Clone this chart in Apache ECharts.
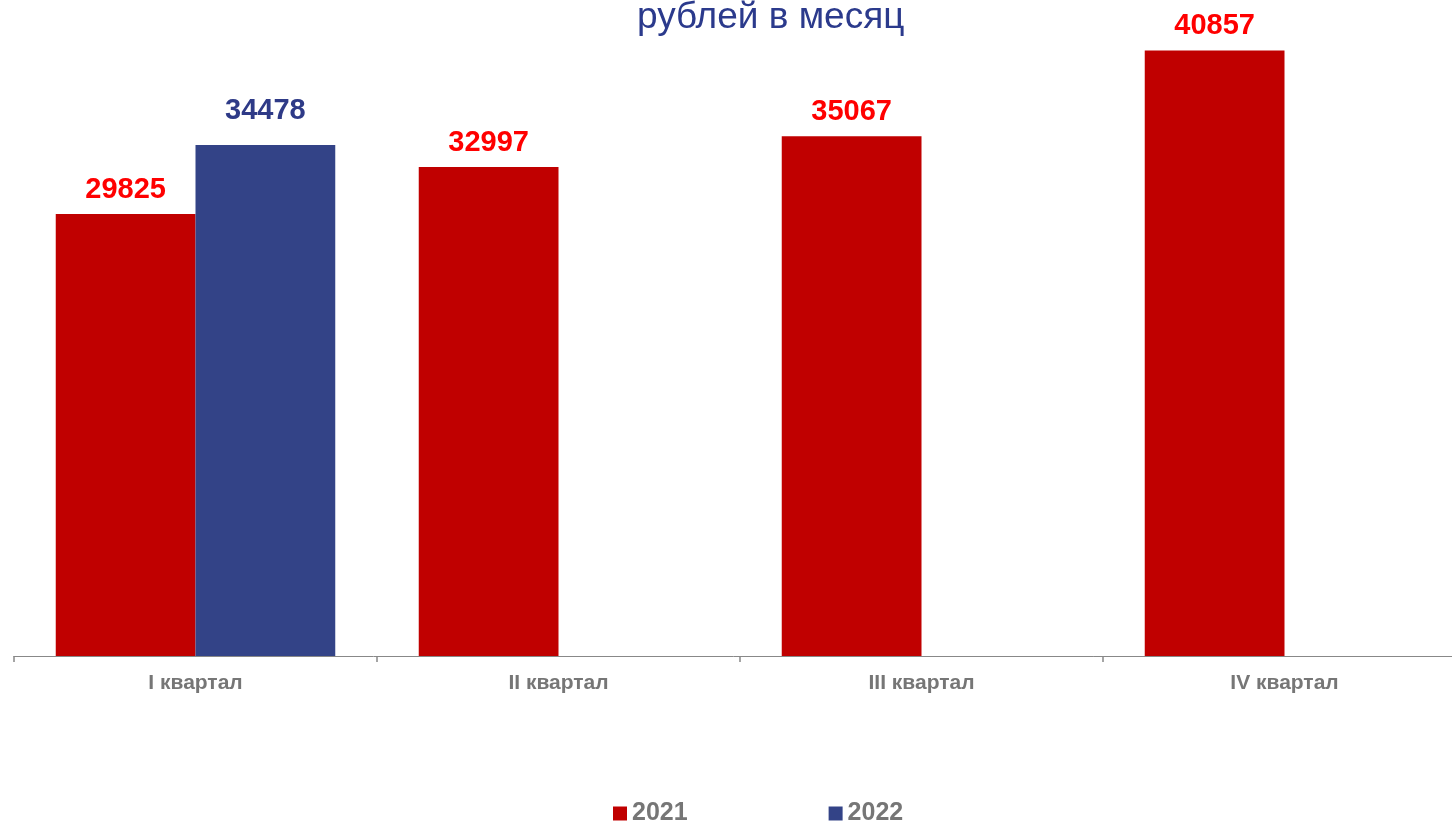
<!DOCTYPE html>
<html>
<head>
<meta charset="utf-8">
<script src="https://cdn.jsdelivr.net/npm/echarts@6/dist/echarts.min.js"></script>
<style>
    html, body { margin: 0; padding: 0; background: #fff; }
    #chart { width: 1452px; height: 821px; }
</style>
</head>
<body>
<div id="chart"></div>
<script>
// данные
const kvartaly = ['I квартал', 'II квартал', 'III квартал', 'IV квартал']
const znacheniya2021 = [29825, 32997, 35067, 40857]
const znacheniya2022 = [34478, null, null, null]
const godaLegendy = ['2021', '2022']

const chartDiv = document.getElementById('chart')
const myChart = echarts.init(chartDiv)

const shrift = 'Liberation Sans, Arial, sans-serif'

myChart.setOption({
    animation: false,
    title: {
        text: 'рублей в месяц',
        left: 632,
        top: -6,
        textStyle: {
            color: '#2B3A8C',
            fontSize: 37,
            fontWeight: 'normal',
            fontFamily: shrift
        }
    },
    legend: {
        data: godaLegendy,
        left: 608,
        top: 796,
        itemWidth: 14,
        itemHeight: 14,
        itemGap: 141,
        icon: 'rect',
        textStyle: {
            color: '#767676',
            fontSize: 25,
            fontWeight: 'bold',
            fontFamily: shrift
        }
    },
    grid: {
        left: 14,
        width: 1452,
        top: 4,
        bottom: 165,
        containLabel: false,
        outerBoundsMode: 'none'
    },
    xAxis: {
        type: 'category',
        data: kvartaly,
        axisLine: { lineStyle: { color: '#888888', width: 1 } },
        axisTick: { show: true, length: 6, lineStyle: { color: '#888888', width: 1.5 } },
        axisLabel: {
            color: '#767676',
            fontSize: 21,
            fontWeight: 'bold',
            fontFamily: shrift,
            margin: 17
        }
    },
    yAxis: {
        type: 'value',
        min: 0,
        max: 44000,
        show: false,
        splitLine: { show: false }
    },
    series: [
        {
            name: godaLegendy[0],
            type: 'bar',
            data: znacheniya2021,
            barGap: '0%',
            barCategoryGap: '23%',
            itemStyle: { color: '#C00000' },
            label: {
                show: true,
                position: 'top',
                distance: 10,
                color: '#FF0000',
                fontSize: 29,
                fontWeight: 'bold',
                fontFamily: shrift
            }
        },
        {
            name: godaLegendy[1],
            type: 'bar',
            data: znacheniya2022,
            itemStyle: { color: '#334387' },
            label: {
                show: true,
                position: 'top',
                distance: 20,
                color: '#2E3A87',
                fontSize: 29,
                fontWeight: 'bold',
                fontFamily: shrift
            }
        }
    ]
})
</script>
</body>
</html>
